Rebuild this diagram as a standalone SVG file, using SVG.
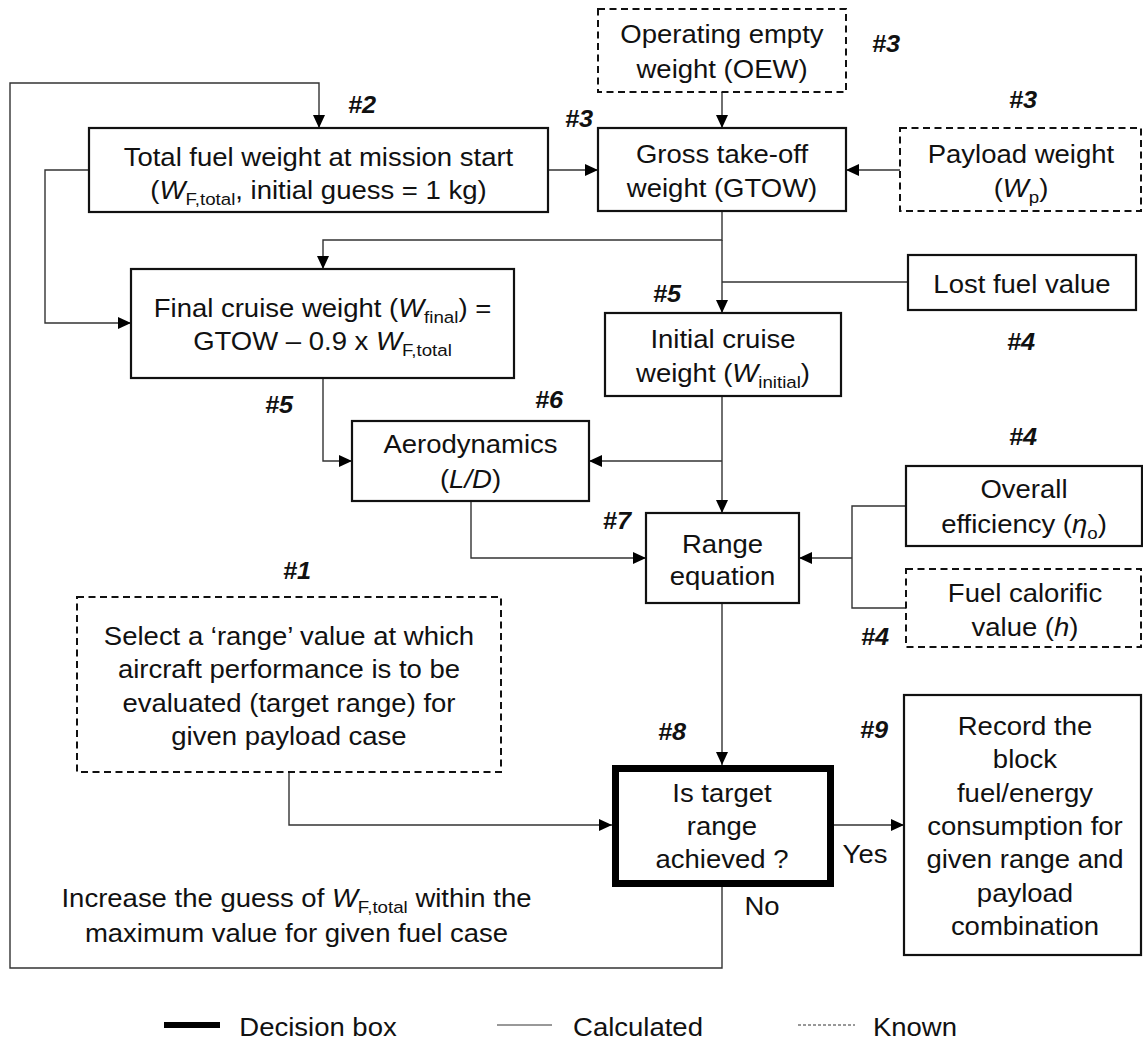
<svg xmlns="http://www.w3.org/2000/svg" width="1143" height="1044" viewBox="0 0 1143 1044">
<defs>
<style>
.box{fill:#fff;stroke:#111;stroke-width:2.2}
.known{fill:#fff;stroke:#111;stroke-width:2;stroke-dasharray:7 4.5}
.decision{fill:#fff;stroke:#000;stroke-width:7}
.con{fill:none;stroke:#333;stroke-width:1.4}
.arr{marker-end:url(#ah)}
text{font-family:"Liberation Sans",Arial,sans-serif;fill:#111}
.t{font-size:25px;text-anchor:middle;transform-box:fill-box;transform-origin:center;transform:scaleX(1.1)}
.h{font-size:23px;font-weight:bold;font-style:italic;text-anchor:middle;transform-box:fill-box;transform-origin:center;transform:scaleX(1.1)}
.sub{font-size:17px}
.it{font-style:italic}
</style>
<marker id="ah" viewBox="0 0 13 12" refX="13" refY="6" markerWidth="13" markerHeight="12" orient="auto" markerUnits="userSpaceOnUse">
<path d="M0,0 L13,6 L0,12 z" fill="#000"/>
</marker>
</defs>
<rect width="1143" height="1044" fill="#fff"/>

<g id="connectors">
<path class="con arr" d="M722,887 V968 H10 V83 H319 V128"/>
<path class="con arr" d="M548,170 H598"/>
<path class="con arr" d="M722,92 V128"/>
<path class="con arr" d="M900,170 H846"/>
<path class="con arr" d="M722,211 V240 H323 V269"/>
<path class="con arr" d="M722,240 V313"/>
<path class="con" d="M908,282 H722"/>
<path class="con arr" d="M89,170 H45 V323 H131"/>
<path class="con arr" d="M323,378 V461 H352"/>
<path class="con arr" d="M722,396 V513"/>
<path class="con arr" d="M722,461 H589"/>
<path class="con arr" d="M471,501 V558 H646"/>
<path class="con" d="M906,506 H852 V608 H906"/>
<path class="con arr" d="M852,558 H799"/>
<path class="con arr" d="M722,602 V765"/>
<path class="con arr" d="M289,772 V825 H612"/>
<path class="con arr" d="M834,825 H904"/>
</g>

<g id="oew">
<rect class="known" x="598" y="9" width="248" height="83"/>
<text class="t" x="722" y="43">Operating empty</text>
<text class="t" x="722" y="78">weight (OEW)</text>
</g>

<g id="total-fuel">
<rect class="box" x="89" y="128" width="459" height="84"/>
<text class="t" x="318.5" y="166">Total fuel weight at mission start</text>
<text class="t" x="318.5" y="199">(<tspan class="it">W</tspan><tspan class="sub" dy="6">F,total</tspan><tspan dy="-6">, initial guess = 1 kg)</tspan></text>
</g>

<g id="gtow">
<rect class="box" x="598" y="128" width="248" height="83"/>
<text class="t" x="722" y="163">Gross take-off</text>
<text class="t" x="722" y="197">weight (GTOW)</text>
</g>

<g id="payload">
<rect class="known" x="900" y="128" width="241" height="83"/>
<text class="t" x="1021" y="163">Payload weight</text>
<text class="t" x="1021" y="197">(<tspan class="it">W</tspan><tspan class="sub" dy="6">p</tspan><tspan dy="-6">)</tspan></text>
</g>

<g id="final-cruise">
<rect class="box" x="131" y="269" width="383" height="109"/>
<text class="t" x="322.5" y="317">Final cruise weight (<tspan class="it">W</tspan><tspan class="sub" dy="6">final</tspan><tspan dy="-6">) =</tspan></text>
<text class="t" x="322.5" y="350">GTOW – 0.9 x <tspan class="it">W</tspan><tspan class="sub" dy="6">F,total</tspan></text>
</g>

<g id="lost-fuel">
<rect class="box" x="908" y="255" width="228" height="55"/>
<text class="t" x="1022" y="293">Lost fuel value</text>
</g>

<g id="initial-cruise">
<rect class="box" x="605" y="313" width="236" height="83"/>
<text class="t" x="723" y="348">Initial cruise</text>
<text class="t" x="723" y="382">weight (<tspan class="it">W</tspan><tspan class="sub" dy="6">initial</tspan><tspan dy="-6">)</tspan></text>
</g>

<g id="aerodynamics">
<rect class="box" x="352" y="421" width="237" height="80"/>
<text class="t" x="470.5" y="453">Aerodynamics</text>
<text class="t" x="470.5" y="488">(<tspan class="it">L/D</tspan>)</text>
</g>

<g id="overall-efficiency">
<rect class="box" x="906" y="466" width="236" height="80"/>
<text class="t" x="1024" y="498">Overall</text>
<text class="t" x="1024" y="533">efficiency (<tspan class="it">η</tspan><tspan class="sub" dy="6">o</tspan><tspan dy="-6">)</tspan></text>
</g>

<g id="range-equation">
<rect class="box" x="646" y="513" width="153" height="90"/>
<text class="t" x="722.5" y="553">Range</text>
<text class="t" x="722.5" y="585">equation</text>
</g>

<g id="fuel-calorific">
<rect class="known" x="906" y="569" width="235" height="78"/>
<text class="t" x="1025" y="602">Fuel calorific</text>
<text class="t" x="1025" y="636">value (<tspan class="it">h</tspan>)</text>
</g>

<g id="target-range">
<rect class="known" x="77" y="597" width="424" height="175"/>
<text class="t" x="289" y="645">Select a ‘range’ value at which</text>
<text class="t" x="289" y="678">aircraft performance is to be</text>
<text class="t" x="289" y="712">evaluated (target range) for</text>
<text class="t" x="289" y="745">given payload case</text>
</g>

<g id="decision">
<rect class="decision" x="615.5" y="768.5" width="215" height="115"/>
<text class="t" x="722" y="802">Is target</text>
<text class="t" x="722" y="835">range</text>
<text class="t" x="722" y="868">achieved ?</text>
</g>

<g id="record">
<rect class="box" x="904" y="695" width="237" height="260"/>
<text class="t" x="1025" y="735">Record the</text>
<text class="t" x="1025" y="768">block</text>
<text class="t" x="1025" y="802">fuel/energy</text>
<text class="t" x="1025" y="835">consumption for</text>
<text class="t" x="1025" y="868">given range and</text>
<text class="t" x="1025" y="902">payload</text>
<text class="t" x="1025" y="935">combination</text>
</g>

<g id="edge-labels">
<text class="t" x="865" y="863">Yes</text>
<text class="t" x="762" y="915">No</text>
<text class="t" x="296.5" y="907">Increase the guess of <tspan class="it">W</tspan><tspan class="sub" dy="6">F,total</tspan><tspan dy="-6"> within the</tspan></text>
<text class="t" x="296.5" y="942">maximum value for given fuel case</text>
</g>

<g id="step-labels">
<text class="h" x="362" y="113">#2</text>
<text class="h" x="579" y="127">#3</text>
<text class="h" x="886" y="52">#3</text>
<text class="h" x="1023" y="108">#3</text>
<text class="h" x="667" y="302">#5</text>
<text class="h" x="1021" y="350">#4</text>
<text class="h" x="279" y="413">#5</text>
<text class="h" x="549" y="408">#6</text>
<text class="h" x="1023" y="445">#4</text>
<text class="h" x="617" y="529">#7</text>
<text class="h" x="297" y="579">#1</text>
<text class="h" x="875" y="645">#4</text>
<text class="h" x="672" y="740">#8</text>
<text class="h" x="874" y="738">#9</text>
</g>

<g id="legend">
<line x1="164" y1="1025" x2="220" y2="1025" stroke="#000" stroke-width="6"/>
<text class="t" x="318" y="1036">Decision box</text>
<line x1="497" y1="1025" x2="552" y2="1025" stroke="#333" stroke-width="1"/>
<text class="t" x="638" y="1036">Calculated</text>
<line x1="798" y1="1025" x2="855" y2="1025" stroke="#333" stroke-width="1" stroke-dasharray="3 2"/>
<text class="t" x="915" y="1036">Known</text>
</g>
</svg>
